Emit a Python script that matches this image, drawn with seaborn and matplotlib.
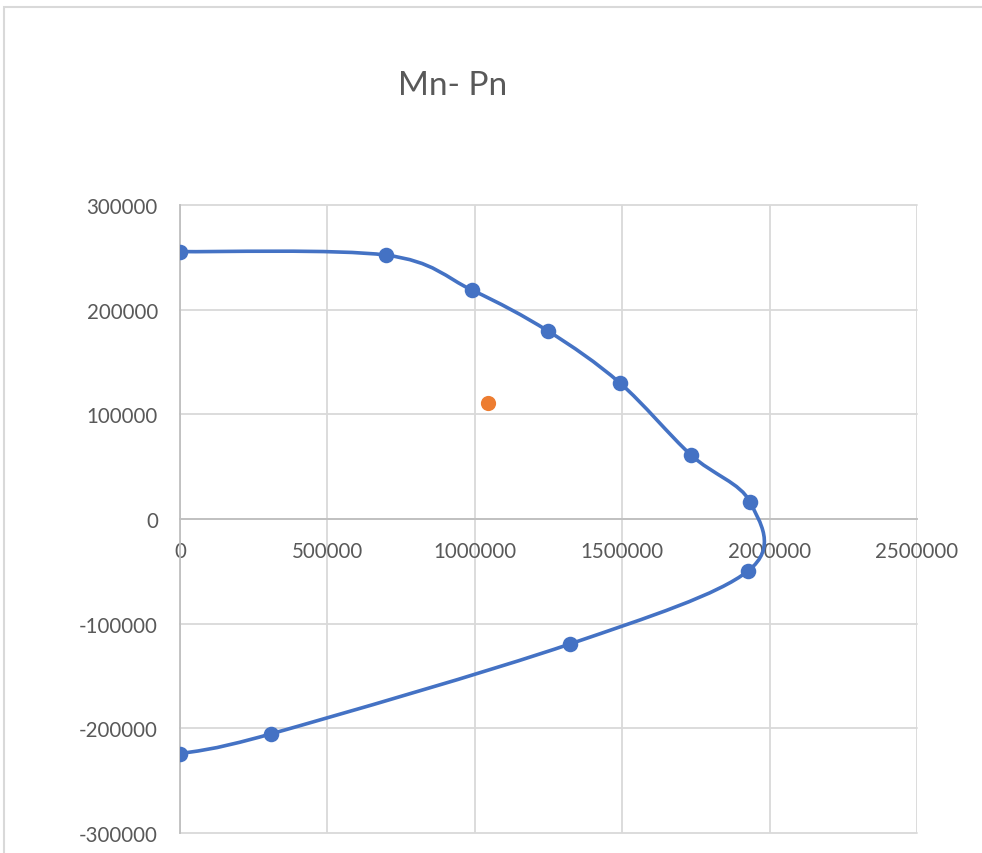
import numpy as np
import pandas as pd
import matplotlib
matplotlib.use("Agg")
import matplotlib.pyplot as plt
from matplotlib.path import Path
from matplotlib.patches import PathPatch, Rectangle
import seaborn as sns

# Interaction diagram points (Mn, Pn)
mn_values = [0, 698800, 990500, 1248300, 1492500, 1733400, 1933500, 1926700, 1322900, 308700, 0]
pn_values = [255500, 252100, 218700, 179600, 129900, 61100, 16200, -49700, -119400, -205300, -224400]

# Design load point
mu_point = [1044800]
pu_point = [110800]

x_ticks = [0, 500000, 1000000, 1500000, 2000000, 2500000]
y_ticks = [-300000, -200000, -100000, 0, 100000, 200000, 300000]

BLUE = "#4472C4"
ORANGE = "#ED7D31"
GRID = "#D9D9D9"
TEXT = "#595959"

sns.set_theme(style="white")
plt.rcParams["font.family"] = ["Lato", "DejaVu Sans"]

W, H = 982, 854
fig = plt.figure(figsize=(W / 100, H / 100), dpi=100)
ax = fig.add_axes([180 / W, 1 - 834 / H, (917 - 180) / W, (834 - 206) / H])

curve = pd.DataFrame({"Mn": mn_values, "Pn": pn_values})
load = pd.DataFrame({"Mn": mu_point, "Pn": pu_point})


def smooth_path(xs, ys):
    """Cubic Bezier path through the points with Catmull-Rom tangents."""
    pts = np.column_stack([xs, ys]).astype(float)
    n = len(pts)
    verts = [pts[0]]
    codes = [Path.MOVETO]
    for i in range(n - 1):
        p0 = pts[i - 1] if i > 0 else pts[i]
        p1 = pts[i]
        p2 = pts[i + 1]
        p3 = pts[i + 2] if i + 2 < n else pts[i + 1]
        c1 = p1 + (p2 - p0) / 6.0
        c2 = p2 - (p3 - p1) / 6.0
        verts += [c1, c2, p2]
        codes += [Path.CURVE4] * 3
    return Path(verts, codes)


ax.add_patch(PathPatch(smooth_path(curve["Mn"], curve["Pn"]), facecolor="none",
                       edgecolor=BLUE, lw=2.6, capstyle="round", zorder=3))

sns.scatterplot(data=curve, x="Mn", y="Pn", ax=ax, color=BLUE, s=125,
                edgecolor=BLUE, linewidth=0, zorder=4, legend=False)
sns.scatterplot(data=load, x="Mn", y="Pn", ax=ax, color=ORANGE, s=120,
                edgecolor=ORANGE, linewidth=0, zorder=4, legend=False)

ax.set_xlim(0, 2500000)
ax.set_ylim(-300000, 300000)
ax.set_xticks(x_ticks)
ax.set_yticks(y_ticks)
ax.set_xticklabels([str(v) for v in x_ticks])
ax.set_yticklabels([str(v) for v in y_ticks])
ax.set_xlabel("")
ax.set_ylabel("")

ax.grid(True, color=GRID, lw=1.3)
for gl in ax.get_xgridlines() + ax.get_ygridlines():
    gl.set_clip_on(False)
ax.set_axisbelow(True)

for side in ["top", "right"]:
    ax.spines[side].set_visible(False)
ax.spines["bottom"].set_position(("data", 0))
ax.spines["left"].set_color("#BFBFBF")
ax.spines["bottom"].set_color("#BFBFBF")
ax.spines["left"].set_linewidth(1.3)
ax.spines["bottom"].set_linewidth(1.3)

ax.tick_params(axis="both", length=0, labelsize=14.8, labelcolor=TEXT)
ax.tick_params(axis="x", pad=16)
ax.tick_params(axis="y", pad=16)

fig.text(453 / W, 1 - 86 / H, "Mn- Pn", ha="center", va="center",
         fontsize=24, color=TEXT)

# Chart frame
fig.patches.append(Rectangle((4 / W, -0.1), 1.2, 1 - 8 / H + 0.1,
                             transform=fig.transFigure, fill=False,
                             edgecolor=GRID, lw=1.5))

fig.savefig("out.png", dpi=100, facecolor="white")
